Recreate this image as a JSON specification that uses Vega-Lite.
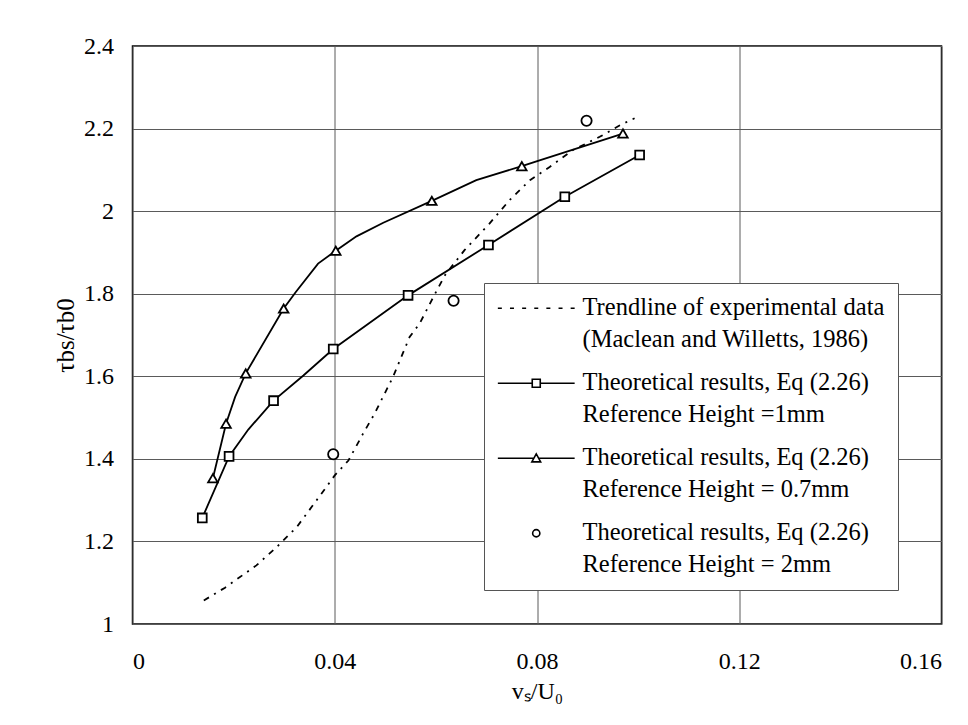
{
  "$schema": "https://vega.github.io/schema/vega-lite/v6.json",
  "width": 809,
  "height": 578,
  "autosize": {"type": "none"},
  "padding": {"left": 132.5, "top": 46, "right": 26, "bottom": 101},
  "background": "white",
  "config": {
    "view": {"stroke": "black", "strokeWidth": 1.5},
    "font": "Liberation Serif",
    "style": {"guide-label": {"lineHeight": 32}},
    "axis": {
      "ticks": false,
      "domain": false,
      "grid": true,
      "gridColor": "#5a5a5a",
      "gridWidth": 1,
      "labelFont": "Liberation Serif",
      "labelFontSize": 24,
      "labelColor": "black",
      "titleFont": "Liberation Serif",
      "titleFontSize": 25,
      "titleFontWeight": "normal",
      "titleColor": "black"
    }
  },
  "data": {
    "values": [
      {"series": "trend", "x": 0.0141, "y": 1.057, "m": 0},
      {"series": "trend", "x": 0.0183, "y": 1.088, "m": 0},
      {"series": "trend", "x": 0.0245, "y": 1.142, "m": 0},
      {"series": "trend", "x": 0.0285, "y": 1.186, "m": 0},
      {"series": "trend", "x": 0.0325, "y": 1.235, "m": 0},
      {"series": "trend", "x": 0.0374, "y": 1.316, "m": 0},
      {"series": "trend", "x": 0.0400, "y": 1.360, "m": 0},
      {"series": "trend", "x": 0.0427, "y": 1.396, "m": 0},
      {"series": "trend", "x": 0.0456, "y": 1.461, "m": 0},
      {"series": "trend", "x": 0.0479, "y": 1.510, "m": 0},
      {"series": "trend", "x": 0.0515, "y": 1.598, "m": 0},
      {"series": "trend", "x": 0.0548, "y": 1.695, "m": 0},
      {"series": "trend", "x": 0.0568, "y": 1.728, "m": 0},
      {"series": "trend", "x": 0.0595, "y": 1.792, "m": 0},
      {"series": "trend", "x": 0.0618, "y": 1.845, "m": 0},
      {"series": "trend", "x": 0.0657, "y": 1.906, "m": 0},
      {"series": "trend", "x": 0.0706, "y": 1.970, "m": 0},
      {"series": "trend", "x": 0.0746, "y": 2.027, "m": 0},
      {"series": "trend", "x": 0.0786, "y": 2.075, "m": 0},
      {"series": "trend", "x": 0.0825, "y": 2.107, "m": 0},
      {"series": "trend", "x": 0.0871, "y": 2.148, "m": 0},
      {"series": "trend", "x": 0.0924, "y": 2.180, "m": 0},
      {"series": "trend", "x": 0.0964, "y": 2.208, "m": 0},
      {"series": "trend", "x": 0.0993, "y": 2.225, "m": 0},
      {"series": "h1", "x": 0.0138, "y": 1.257, "m": 1},
      {"series": "h1", "x": 0.0191, "y": 1.406, "m": 1},
      {"series": "h1", "x": 0.0229, "y": 1.471, "m": 0},
      {"series": "h1", "x": 0.0279, "y": 1.541, "m": 1},
      {"series": "h1", "x": 0.0338, "y": 1.602, "m": 0},
      {"series": "h1", "x": 0.0397, "y": 1.666, "m": 1},
      {"series": "h1", "x": 0.0545, "y": 1.796, "m": 1},
      {"series": "h1", "x": 0.0704, "y": 1.918, "m": 1},
      {"series": "h1", "x": 0.0855, "y": 2.035, "m": 1},
      {"series": "h1", "x": 0.1003, "y": 2.136, "m": 1},
      {"series": "h07", "x": 0.0159, "y": 1.353, "m": 1},
      {"series": "h07", "x": 0.0185, "y": 1.485, "m": 1},
      {"series": "h07", "x": 0.0203, "y": 1.550, "m": 0},
      {"series": "h07", "x": 0.0224, "y": 1.607, "m": 1},
      {"series": "h07", "x": 0.0299, "y": 1.764, "m": 1},
      {"series": "h07", "x": 0.0323, "y": 1.804, "m": 0},
      {"series": "h07", "x": 0.0367, "y": 1.873, "m": 0},
      {"series": "h07", "x": 0.0402, "y": 1.904, "m": 1},
      {"series": "h07", "x": 0.0443, "y": 1.939, "m": 0},
      {"series": "h07", "x": 0.0496, "y": 1.972, "m": 0},
      {"series": "h07", "x": 0.0592, "y": 2.025, "m": 1},
      {"series": "h07", "x": 0.0680, "y": 2.075, "m": 0},
      {"series": "h07", "x": 0.0770, "y": 2.109, "m": 1},
      {"series": "h07", "x": 0.0802, "y": 2.122, "m": 0},
      {"series": "h07", "x": 0.0970, "y": 2.188, "m": 1},
      {"series": "h2", "x": 0.0397, "y": 1.411, "m": 1},
      {"series": "h2", "x": 0.0635, "y": 1.783, "m": 1},
      {"series": "h2", "x": 0.0898, "y": 2.219, "m": 1}
    ]
  },
  "encoding": {
    "x": {
      "field": "x",
      "type": "quantitative",
      "scale": {"domain": [0, 0.16], "nice": false, "zero": false},
      "axis": {
        "title": "vₛ/U₀",
        "values": [0, 0.04, 0.08, 0.12, 0.16],
        "format": "~g",
        "labelPadding": 25,
        "titlePadding": 6,
        "titleFontSize": 24
      }
    },
    "y": {
      "field": "y",
      "type": "quantitative",
      "scale": {"domain": [1, 2.4], "nice": false, "zero": false},
      "axis": {
        "title": "τbs/τb0",
        "values": [1, 1.2, 1.4, 1.6, 1.8, 2, 2.2, 2.4],
        "format": "~g",
        "labelPadding": 19,
        "titlePadding": 5
      }
    }
  },
  "resolve": {"scale": {"shape": "independent"}, "legend": {"shape": "independent"}},
  "layer": [
    {
      "transform": [{"filter": "datum.series == 'trend'"}],
      "mark": {"type": "line", "stroke": "black", "strokeWidth": 1.8, "strokeDash": [6, 6, 2, 6]},
      "encoding": {}
    },
    {
      "transform": [{"filter": "datum.series == 'h1' || datum.series == 'h07'"}],
      "mark": {"type": "line", "stroke": "black", "strokeWidth": 1.8},
      "encoding": {"detail": {"field": "series", "type": "nominal"}}
    },
    {
      "transform": [{"filter": "datum.m == 1"}],
      "mark": {"type": "point", "filled": true, "fill": "white", "stroke": "black", "strokeWidth": 1.8, "opacity": 1},
      "encoding": {
        "size": {
          "field": "series",
          "type": "ordinal",
          "scale": {"domain": ["trend", "h1", "h07", "h2"], "range": [64, 105, 150, 80]},
          "legend": null
        },
        "shape": {
          "field": "series",
          "type": "nominal",
          "scale": {"domain": ["trend", "h1", "h07", "h2"], "range": ["stroke", "square", "triangle-up", "circle"]},
          "legend": null
        }
      }
    },
    {
      "transform": [{"filter": "datum.m == 2"}],
      "mark": {"type": "point", "filled": false, "stroke": "black", "strokeWidth": 1.6, "size": 64, "opacity": 1},
      "encoding": {
        "shape": {
          "field": "series",
          "type": "nominal",
          "scale": {
            "domain": ["trend", "h1", "h07", "h2"],
            "range": [
              "M-9.6,0H-8.6M-6.57,0H-5.57M-3.53,0H-2.53M-0.5,0H0.5M2.53,0H3.53M5.57,0H6.57M8.6,0H9.6",
              "M-9.6,0H-1M1,0H9.6M-1,-1H1V1H-1Z",
              "M-9.6,0H-0.6M0.6,0H9.6M0,-1.1L1.1,0.9H-1.1Z",
              "M-0.9,0A0.9,0.9,0,1,0,0.9,0A0.9,0.9,0,1,0,-0.9,0Z"
            ]
          },
          "legend": {
            "orient": "none",
            "legendX": 351.5,
            "legendY": 237,
            "title": null,
            "direction": "vertical",
            "fillColor": "white",
            "strokeColor": "#555555",
            "padding": 13,
            "labelFont": "Liberation Serif",
            "labelFontSize": 24.5,
            "labelColor": "black",
            "labelLimit": 0,
            "labelOffset": 34,
            "symbolOffset": 27,
            "rowPadding": 18,
            "symbolSize": 64,
            "symbolStrokeColor": "black",
            "symbolFillColor": "transparent",
            "symbolStrokeWidth": 1.6,
            "symbolOpacity": 1,
            "labelExpr": "datum.value == 'trend' ? ['Trendline of experimental data', '(Maclean and Willetts, 1986)'] : datum.value == 'h1' ? ['Theoretical results, Eq (2.26)', 'Reference Height =1mm'] : datum.value == 'h07' ? ['Theoretical results, Eq (2.26)', 'Reference Height = 0.7mm'] : ['Theoretical results, Eq (2.26)', 'Reference Height = 2mm']",
            "encode": {
              "labels": {
                "lineHeight": {"value": 32}
              }
            }
          }
        }
      }
    }
  ]
}
